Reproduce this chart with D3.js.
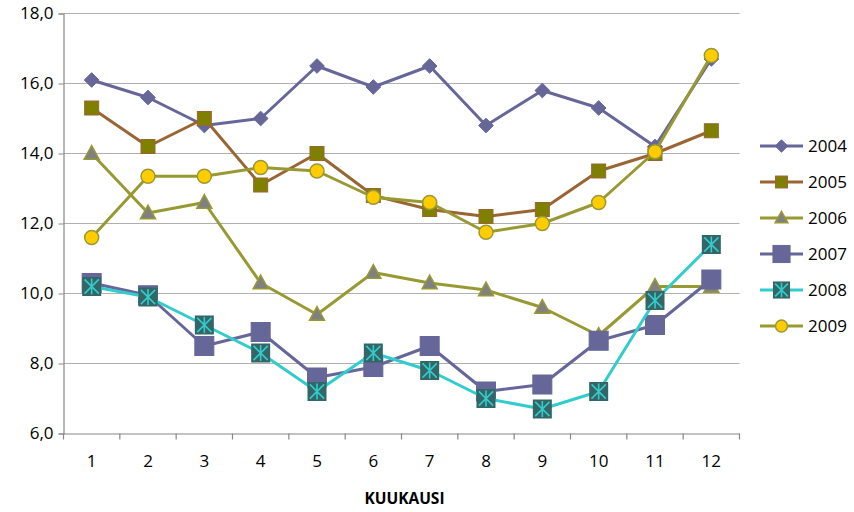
<!DOCTYPE html>
<html><head><meta charset="utf-8">
<script src="https://cdn.jsdelivr.net/npm/d3@7"></script>
<style>body{margin:0;background:#fff}svg text{font-family:"Open Sans",sans-serif}</style>
</head><body>
<svg id="c" width="854" height="512"></svg>
<script>
const months = [1,2,3,4,5,6,7,8,9,10,11,12];
const yTicks = [6,8,10,12,14,16,18];
const y2004 = [16.1,15.6,14.8,15.0,16.5,15.9,16.5,14.8,15.8,15.3,14.2,16.7];
const y2005 = [15.3,14.2,15.0,13.1,14.0,12.8,12.4,12.2,12.4,13.5,14.0,14.65];
const y2006 = [14.0,12.3,12.6,10.3,9.4,10.6,10.3,10.1,9.6,8.8,10.2,10.2];
const y2007 = [10.3,9.95,8.5,8.9,7.6,7.9,8.5,7.2,7.4,8.65,9.1,10.4];
const y2008 = [10.2,9.9,9.1,8.3,7.2,8.3,7.8,7.0,6.7,7.2,9.8,11.4];
const y2009 = [11.6,13.35,13.35,13.6,13.5,12.75,12.6,11.75,12.0,12.6,14.05,16.8];
const seriesNames = ["2004","2005","2006","2007","2008","2009"];
const xTitle = "KUUKAUSI";

const series = [
  {name:seriesNames[0], values:y2004, line:"#666699", marker:"diamond", fill:"#666699", stroke:"#666699", size:14},
  {name:seriesNames[1], values:y2005, line:"#996633", marker:"square", fill:"#808000", stroke:"#996633", size:14},
  {name:seriesNames[2], values:y2006, line:"#999933", marker:"triangle", fill:"#808080", stroke:"#999933", size:15},
  {name:seriesNames[3], values:y2007, line:"#666699", marker:"square", fill:"#666699", stroke:"#666699", size:19},
  {name:seriesNames[4], values:y2008, line:"#33CCCC", marker:"xsquare", fill:"#336666", stroke:"#33CCCC", size:19},
  {name:seriesNames[5], values:y2009, line:"#999933", marker:"circle", fill:"#FFCC00", stroke:"#999933", size:14}
];

const svg = d3.select("#c");
const L=63.5, R=739.5, T=13.5, B=433.5;
const x = d3.scaleBand().domain(months).range([L,R]);
const y = d3.scaleLinear().domain([6,18]).range([B,T]);

svg.append("g").selectAll("line").data(yTicks.filter(d=>d>6)).join("line")
  .attr("x1",L).attr("x2",R).attr("y1",d=>y(d)).attr("y2",d=>y(d))
  .attr("stroke","#b0b0b0").attr("stroke-width",1.2);

const ya = svg.append("g").attr("transform",`translate(${L},0)`)
  .call(d3.axisLeft(y).tickValues(yTicks).tickSize(5).tickPadding(5)
    .tickFormat(d=>d3.format(".1f")(d).replace(".",",")));
ya.select(".domain").attr("stroke","#888").attr("stroke-width",1.2);
ya.selectAll(".tick line").attr("stroke","#888");
ya.selectAll("text").attr("font-size",17).attr("fill","#000").attr("font-family","Open Sans");

const xa = svg.append("g").attr("transform",`translate(0,${B})`)
  .call(d3.axisBottom(x).tickSize(0).tickPadding(21));
xa.select(".domain").attr("stroke","#888").attr("stroke-width",1.2);
xa.selectAll("text").attr("font-size",17).attr("fill","#000").attr("font-family","Open Sans");
svg.append("g").selectAll("line").data(d3.range(13)).join("line")
  .attr("x1",i=>L+i*x.step()).attr("x2",i=>L+i*x.step())
  .attr("y1",B).attr("y2",B+6).attr("stroke","#888").attr("stroke-width",1.2);

svg.append("text").attr("x",(L+R)/2+3).attr("y",504).attr("text-anchor","middle")
  .attr("font-size",15.5).attr("font-weight","bold").text(xTitle);

function drawMarker(g, s, cx, cy, scale){
  const sz = s.size*scale, h = sz/2;
  if(s.marker==="diamond"){
    g.append("path").attr("d",`M${cx},${cy-h*1.05}L${cx+h*1.05},${cy}L${cx},${cy+h*1.05}L${cx-h*1.05},${cy}Z`)
      .attr("fill",s.fill).attr("stroke",s.stroke);
  } else if(s.marker==="square"){
    g.append("rect").attr("x",cx-h).attr("y",cy-h).attr("width",sz).attr("height",sz)
      .attr("fill",s.fill).attr("stroke",s.stroke).attr("stroke-width",1);
  } else if(s.marker==="triangle"){
    g.append("path").attr("d",`M${cx},${cy-h*1.05}L${cx+h},${cy+h*0.75}L${cx-h},${cy+h*0.75}Z`)
      .attr("fill",s.fill).attr("stroke",s.stroke).attr("stroke-width",1.5);
  } else if(s.marker==="xsquare"){
    g.append("rect").attr("x",cx-h).attr("y",cy-h).attr("width",sz).attr("height",sz)
      .attr("fill",s.fill);
    const a=h*0.75;
    g.append("path").attr("d",`M${cx-a},${cy-a}L${cx+a},${cy+a}M${cx-a},${cy+a}L${cx+a},${cy-a}M${cx},${cy-h*0.85}L${cx},${cy+h*0.85}`)
      .attr("stroke",s.stroke).attr("stroke-width",1.6).attr("fill","none");
  } else if(s.marker==="circle"){
    g.append("circle").attr("cx",cx).attr("cy",cy).attr("r",h)
      .attr("fill",s.fill).attr("stroke",s.stroke).attr("stroke-width",1.5);
  }
}

const cx = d => x(d)+x.bandwidth()/2;
const lineGen = d3.line().x((d,i)=>cx(months[i])).y(d=>y(d));
series.forEach(s=>{
  const g = svg.append("g");
  g.append("path").attr("d",lineGen(s.values)).attr("fill","none")
    .attr("stroke",s.line).attr("stroke-width",3).attr("stroke-linejoin","round");
  s.values.forEach((v,i)=>drawMarker(g,s,cx(months[i]),y(v),1));
});

const lg = svg.append("g");
series.forEach((s,i)=>{
  const ly = 146 + i*36;
  lg.append("line").attr("x1",760).attr("x2",803).attr("y1",ly).attr("y2",ly)
    .attr("stroke",s.line).attr("stroke-width",3);
  drawMarker(lg,s,781.5,ly,s.size>16?0.9:0.85);
  lg.append("text").attr("x",808).attr("y",ly+6).attr("font-size",17).text(s.name);
});
</script>
</body></html>
